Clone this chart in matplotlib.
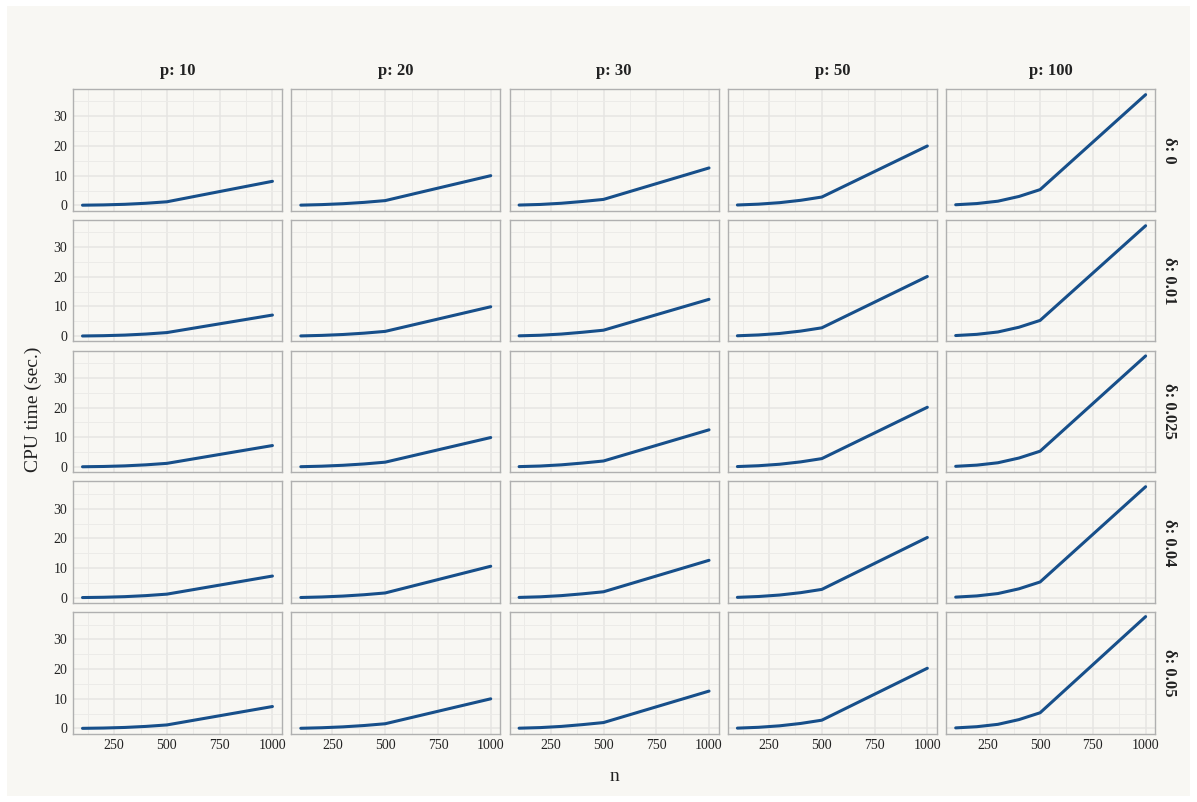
import numpy as np
import matplotlib.pyplot as plt
from matplotlib.patches import Rectangle
from matplotlib.ticker import MultipleLocator

plt.rcParams['font.family'] = ['Liberation Serif', 'DejaVu Serif']

# ---------------- data ----------------
n_vals = [100, 200, 300, 400, 500, 1000]
p_vals = [10, 20, 30, 50, 100]
delta_labels = ['0', '0.01', '0.025', '0.04', '0.05']

# base shape of the curves for n <= 500, per p (seconds)
base_small = {
    10: [0.05, 0.15, 0.35, 0.70, 1.20],
    20: [0.07, 0.25, 0.55, 1.00, 1.60],
    30: [0.10, 0.30, 0.70, 1.30, 2.00],
    50: [0.12, 0.40, 0.90, 1.70, 2.80],
    100: [0.20, 0.60, 1.40, 3.00, 5.30],
}
# CPU time at n = 1000, rows = delta, cols = p
t_1000 = [
    [8.1, 10.0, 12.6, 20.0, 37.3],
    [7.1, 9.9, 12.4, 20.1, 37.2],
    [7.2, 9.9, 12.5, 20.1, 37.4],
    [7.3, 10.6, 12.6, 20.3, 37.4],
    [7.4, 10.0, 12.6, 20.3, 37.7],
]

BG = '#f8f7f3'
LINE = '#174f8a'

fig = plt.figure(figsize=(11.97, 8.02), dpi=100, facecolor='white')
fig.patches.append(Rectangle((7 / 1197, 6 / 802), 1183 / 1197, 790 / 802,
                             transform=fig.transFigure, facecolor=BG,
                             edgecolor='none', zorder=-10))

axes = fig.subplots(5, 5, sharex=True, sharey=True,
                    gridspec_kw=dict(left=0.061, right=0.965, top=0.889,
                                     bottom=0.085, wspace=0.045, hspace=0.075))

for i, dl in enumerate(delta_labels):
    for j, p in enumerate(p_vals):
        ax = axes[i, j]
        ax.set_facecolor(BG)
        y = base_small[p] + [t_1000[i][j]]
        ax.plot(n_vals, y, color=LINE, lw=2.2, solid_capstyle='round', zorder=3)
        ax.xaxis.set_major_locator(MultipleLocator(250))
        ax.xaxis.set_minor_locator(MultipleLocator(125))
        ax.yaxis.set_major_locator(MultipleLocator(10))
        ax.yaxis.set_minor_locator(MultipleLocator(5))
        ax.grid(which='major', color='#e6e5e3', lw=1.1)
        ax.grid(which='minor', color='#ecebe8', lw=0.7)
        ax.set_axisbelow(True)
        ax.tick_params(which='both', length=0, labelsize=10, colors='#222222',
                       pad=4)
        for s in ax.spines.values():
            s.set_color('#b0b0b0')
            s.set_linewidth(1.0)
        if i == 0:
            ax.set_title(f'p: {p}', fontsize=12, fontweight='bold', pad=10,
                         color='#222222')
        if j == 4:
            ax.text(1.065, 0.5, f'δ: {dl}', transform=ax.transAxes,
                    rotation=-90, ha='center', va='center', fontsize=12,
                    fontweight='bold', color='#222222')

axes[0, 0].set_xlim(55, 1045)
axes[0, 0].set_ylim(-1.8, 39.2)

fig.text(0.028, 0.49, 'CPU time (sec.)', rotation=90, ha='center',
         va='center', fontsize=14, color='#222222')
fig.text(0.513, 0.032, 'n', ha='center', va='center', fontsize=14,
         color='#222222')

fig.savefig('out.png', dpi=100, facecolor='white')
